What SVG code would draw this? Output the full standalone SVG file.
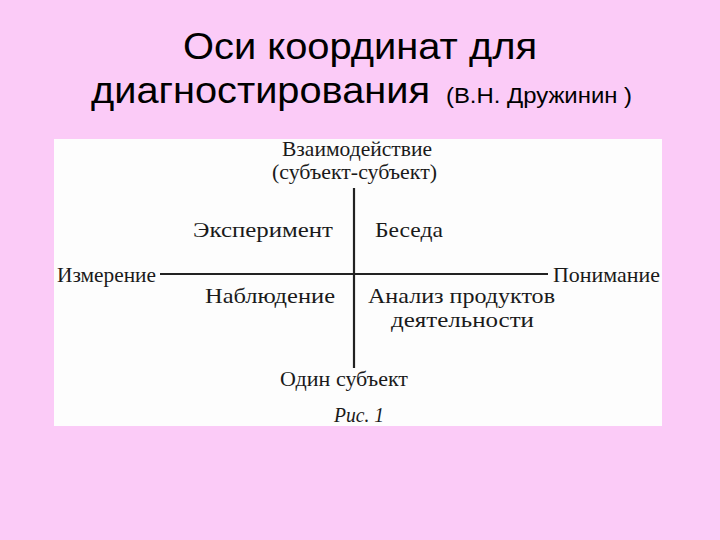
<svg xmlns="http://www.w3.org/2000/svg" width="720" height="540" viewBox="0 0 720 540">
<style>
.title{font-family:"Liberation Sans",Arial,sans-serif;fill:#000}
.lbl{font-family:"Liberation Serif","Times New Roman",serif;font-size:22px;fill:#1a1a1a}
.ax{stroke:#222;stroke-width:2.2;fill:none}
</style>
<rect width="720" height="540" fill="#FBCBF7"/>
<g id="title">
<text class="title" x="183" y="59" font-size="36" textLength="354" lengthAdjust="spacingAndGlyphs">Оси координат для</text>
<text class="title" x="91" y="103" font-size="36" textLength="339" lengthAdjust="spacingAndGlyphs">диагностирования</text>
<text class="title" x="446" y="103" font-size="22" textLength="186" lengthAdjust="spacingAndGlyphs">(В.Н. Дружинин )</text>
</g>
<rect id="panel" x="54" y="139" width="608" height="287" fill="#FDFDFD"/>
<g id="connectors">
<line class="ax" x1="354" y1="188" x2="354" y2="368"/>
<line class="ax" x1="160" y1="274" x2="548" y2="274"/>
</g>
<g id="top"><text class="lbl" x="282" y="156" font-size="19" textLength="150" lengthAdjust="spacingAndGlyphs">Взаимодействие</text>
<text class="lbl" x="272" y="179" font-size="19" textLength="165" lengthAdjust="spacingAndGlyphs">(субъект-субъект)</text></g>
<g id="experiment"><text class="lbl" x="193" y="237" textLength="140" lengthAdjust="spacingAndGlyphs">Эксперимент</text></g>
<g id="beseda"><text class="lbl" x="375" y="237" textLength="68" lengthAdjust="spacingAndGlyphs">Беседа</text></g>
<g id="left"><text class="lbl" x="57" y="282" textLength="99" lengthAdjust="spacingAndGlyphs">Измерение</text></g>
<g id="right"><text class="lbl" x="553" y="282" textLength="107" lengthAdjust="spacingAndGlyphs">Понимание</text></g>
<g id="nabl"><text class="lbl" x="205" y="303" textLength="130" lengthAdjust="spacingAndGlyphs">Наблюдение</text></g>
<g id="analiz"><text class="lbl" x="368" y="303" textLength="187" lengthAdjust="spacingAndGlyphs">Анализ продуктов</text>
<text class="lbl" x="391" y="327" textLength="143" lengthAdjust="spacingAndGlyphs">деятельности</text></g>
<g id="bottom"><text class="lbl" x="280" y="386" textLength="128" lengthAdjust="spacingAndGlyphs">Один субъект</text></g>
<g id="caption"><text class="lbl" x="334" y="422" font-size="23" textLength="50" lengthAdjust="spacingAndGlyphs" font-style="italic">Рис. 1</text></g>
</svg>
